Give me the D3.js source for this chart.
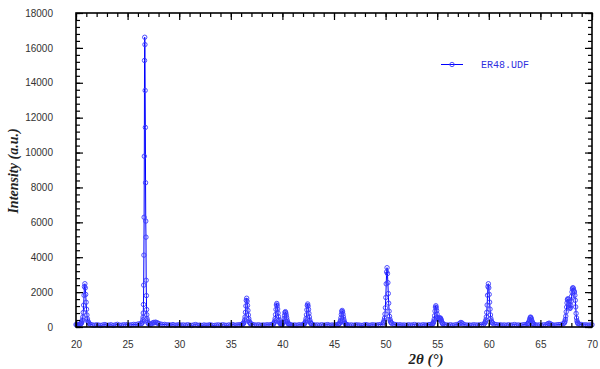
<!DOCTYPE html>
<html>
<head>
<meta charset="utf-8">
<script src="https://cdn.jsdelivr.net/npm/d3@7"></script>
<style>
  body { margin: 0; background: #fff; }
  svg { display: block; }
</style>
</head>
<body>
<svg id="chart" width="600" height="369"></svg>
<script>
// XRD scan ER48.UDF, [2theta, counts]
const bgLow = [
    [20.00, 140], [20.08, 120], [20.16, 150], [20.24, 110], [20.32, 130], [20.40, 160], [20.46, 180],
    [21.40, 150], [21.60, 120], [21.80, 100], [22.00, 130], [22.20, 110], [22.40, 90], [22.60, 120],
    [22.80, 140], [23.00, 100], [23.20, 110], [23.40, 130], [23.60, 90], [23.80, 120], [24.00, 150],
    [24.20, 110], [24.40, 100], [24.60, 130], [24.80, 120], [25.00, 140], [25.20, 110], [25.40, 130],
    [25.60, 150], [25.80, 140], [26.00, 170], [26.20, 190],
    [27.10, 180], [27.20, 150], [27.30, 170], [27.40, 220], [27.50, 260], [27.60, 240], [27.70, 280],
    [27.80, 250], [27.90, 230], [28.00, 200], [28.20, 170], [28.40, 140], [28.60, 150], [28.80, 120],
    [29.00, 130], [29.20, 110], [29.40, 140], [29.60, 100], [29.80, 120], [30.00, 130], [30.20, 110],
    [30.40, 120], [30.60, 100], [30.80, 130], [31.00, 110], [31.20, 90], [31.40, 120], [31.60, 140],
    [31.80, 100], [32.00, 110], [32.20, 90], [32.40, 120], [32.60, 100], [32.80, 110], [33.00, 130],
    [33.20, 100], [33.40, 90], [33.60, 110], [33.80, 120], [34.00, 100], [34.20, 130], [34.40, 110],
    [34.60, 90], [34.80, 120], [35.00, 110], [35.20, 140], [35.40, 100], [35.60, 120], [35.80, 130],
    [36.00, 140], [36.10, 160]
];

const bgMid = [
    [37.10, 150], [37.30, 120], [37.50, 110], [37.70, 130], [37.90, 100], [38.10, 120], [38.30, 110],
    [38.50, 130], [38.70, 120], [38.90, 140],
    [40.80, 130], [41.00, 110], [41.20, 120], [41.40, 100], [41.60, 130], [41.80, 120], [42.00, 140],
    [43.00, 130], [43.20, 110], [43.40, 120], [43.60, 100], [43.80, 130], [44.00, 110], [44.20, 120],
    [44.40, 140], [44.60, 100], [44.80, 120], [45.00, 110], [45.20, 130], [45.40, 140],
    [46.30, 130], [46.50, 110], [46.70, 120], [46.90, 100], [47.10, 130], [47.30, 120], [47.50, 110],
    [47.70, 90], [47.90, 120], [48.10, 140], [48.30, 110], [48.50, 100], [48.70, 130], [48.90, 120],
    [49.10, 110], [49.30, 130], [49.50, 140], [49.70, 150]
];

const bgHigh = [
    [50.60, 200], [50.80, 160], [51.00, 140], [51.20, 120], [51.40, 130], [51.60, 110], [51.80, 120],
    [52.00, 100], [52.20, 130], [52.40, 110], [52.60, 120], [52.80, 140], [53.00, 110], [53.20, 120],
    [53.40, 100], [53.60, 130], [53.80, 120], [54.00, 110], [54.20, 140], [54.40, 150],
    [55.70, 140], [55.90, 120], [56.10, 110], [56.30, 130], [56.50, 100], [56.70, 120], [56.90, 140],
    [57.10, 170], [57.20, 220], [57.30, 260], [57.40, 230], [57.50, 170],
    [57.70, 130], [57.90, 110], [58.10, 120], [58.30, 100], [58.50, 130], [58.70, 120], [58.90, 110],
    [59.10, 130], [59.30, 140], [59.50, 150],
    [60.50, 170], [60.70, 140], [60.90, 120], [61.10, 130], [61.30, 110], [61.50, 120], [61.70, 100],
    [61.90, 130], [62.10, 110], [62.30, 120], [62.50, 140], [62.70, 110], [62.90, 120], [63.10, 100],
    [63.30, 130], [63.50, 140],
    [64.50, 130], [64.70, 110], [64.90, 120], [65.10, 100], [65.30, 130], [65.50, 120],
    [65.65, 160], [65.75, 200], [65.85, 220], [65.95, 180], [66.05, 150],
    [66.20, 120], [66.40, 110], [66.60, 130], [66.80, 140], [67.00, 150], [67.20, 190],
    [68.80, 160], [69.00, 140], [69.20, 120], [69.40, 130], [69.60, 110], [69.80, 120], [70.00, 130]
];

const peak208 = [
    [20.50, 214], [20.54, 238], [20.58, 309], [20.62, 403], [20.66, 568], [20.70, 828], [20.74, 1253],
    [20.78, 1819], [20.82, 2315], [20.86, 2480], [20.90, 2244], [20.94, 1866], [20.98, 1418],
    [21.02, 1017], [21.06, 686], [21.10, 474], [21.14, 356], [21.18, 285], [21.22, 238], [21.26, 214]
];

const peak266 = [
    [26.36, 200], [26.40, 230], [26.44, 300], [26.48, 420], [26.50, 560], [26.52, 800], [26.54, 1290],
    [26.56, 2400], [26.58, 4120], [26.60, 6290], [26.62, 9790], [26.64, 15280], [26.66, 16610],
    [26.68, 16190], [26.70, 13560], [26.72, 11440], [26.74, 8270], [26.76, 6070], [26.78, 5150],
    [26.80, 2680], [26.82, 1800], [26.84, 1000], [26.86, 700], [26.88, 480], [26.92, 360],
    [26.96, 260], [27.00, 200]
];

const peak365 = [
    [36.18, 180], [36.22, 196], [36.26, 241], [36.30, 301], [36.34, 407], [36.38, 573], [36.42, 845],
    [36.46, 1207], [36.50, 1524], [36.54, 1650], [36.58, 1479], [36.62, 1237], [36.66, 950],
    [36.70, 694], [36.74, 482], [36.78, 347], [36.82, 271], [36.86, 226], [36.90, 196], [36.94, 180]
];

const peak395 = [
    [39.10, 169], [39.14, 182], [39.18, 218], [39.22, 268], [39.26, 354], [39.30, 489], [39.34, 710],
    [39.38, 1006], [39.42, 1264], [39.46, 1350], [39.50, 1227], [39.54, 1030], [39.58, 797],
    [39.62, 587], [39.66, 415], [39.70, 305], [39.74, 243], [39.78, 206], [39.82, 182], [39.86, 169]
];

const peak403 = [
    [39.93, 150], [39.97, 158], [40.01, 181], [40.05, 211], [40.09, 264], [40.13, 348], [40.17, 485],
    [40.21, 667], [40.25, 827], [40.29, 880], [40.33, 804], [40.37, 682], [40.41, 538], [40.45, 409],
    [40.49, 302], [40.53, 234], [40.57, 196], [40.61, 173], [40.65, 158], [40.69, 150]
];

const peak424 = [
    [42.09, 168], [42.13, 180], [42.17, 216], [42.21, 264], [42.25, 348], [42.29, 480], [42.33, 696],
    [42.37, 984], [42.41, 1236], [42.45, 1320], [42.49, 1200], [42.53, 1008], [42.57, 780],
    [42.61, 576], [42.65, 408], [42.69, 300], [42.73, 240], [42.77, 204], [42.81, 180], [42.85, 168]
];

const peak458 = [
    [45.43, 153], [45.47, 162], [45.51, 186], [45.55, 220], [45.59, 278], [45.63, 369], [45.67, 518],
    [45.71, 718], [45.75, 892], [45.79, 950], [45.83, 867], [45.87, 734], [45.91, 577], [45.95, 435],
    [45.99, 319], [46.03, 245], [46.07, 203], [46.11, 178], [46.15, 162], [46.19, 153]
];

const peak501 = [
    [49.78, 251], [49.82, 284], [49.86, 382], [49.90, 512], [49.94, 741], [49.98, 1101], [50.02, 1690],
    [50.06, 2474], [50.10, 3161], [50.14, 3400], [50.18, 3063], [50.22, 2540], [50.26, 1919],
    [50.30, 1363], [50.34, 905], [50.38, 611], [50.42, 447], [50.46, 349], [50.50, 284], [50.54, 251]
];

const peak549 = [
    [54.51, 164], [54.55, 175], [54.59, 208], [54.63, 252], [54.67, 329], [54.71, 450], [54.75, 648],
    [54.79, 912], [54.83, 1143], [54.87, 1220], [54.91, 1110], [54.95, 934], [54.99, 735],
    [55.03, 560], [55.07, 460], [55.11, 420], [55.15, 430], [55.19, 470], [55.23, 500], [55.27, 520],
    [55.31, 510], [55.35, 470], [55.39, 400], [55.43, 320], [55.47, 250], [55.51, 200], [55.55, 170]
];

const peak600 = [
    [59.60, 224], [59.64, 248], [59.68, 318], [59.72, 412], [59.76, 577], [59.80, 835], [59.84, 1258],
    [59.88, 1822], [59.92, 2316], [59.96, 2480], [60.00, 2245], [60.04, 1869], [60.08, 1423],
    [60.12, 1023], [60.16, 694], [60.20, 483], [60.24, 365], [60.28, 295], [60.32, 248], [60.36, 224]
];

const peak640 = [
    [63.72, 170], [63.76, 180], [63.80, 200], [63.84, 230], [63.88, 280], [63.92, 340], [63.96, 430],
    [64.00, 520], [64.04, 570], [64.08, 540], [64.12, 470], [64.16, 380], [64.20, 300], [64.24, 240],
    [64.28, 200], [64.32, 170], [64.36, 150]
];

const peak680 = [
    [67.30, 220], [67.34, 260], [67.38, 330], [67.42, 440], [67.46, 620], [67.50, 870], [67.54, 1140],
    [67.58, 1380], [67.62, 1560], [67.66, 1620], [67.70, 1590], [67.74, 1480], [67.78, 1300],
    [67.82, 1140], [67.86, 1060], [67.90, 1100], [67.94, 1250], [67.98, 1480], [68.02, 1760],
    [68.06, 2010], [68.10, 2180], [68.14, 2250], [68.18, 2230], [68.22, 2120], [68.26, 2040],
    [68.30, 2000], [68.34, 1820], [68.38, 1530], [68.42, 1150], [68.46, 780], [68.50, 520],
    [68.54, 360], [68.58, 270], [68.62, 220], [68.66, 190]
];

const xTicks = [20, 25, 30, 35, 40, 45, 50, 55, 60, 65, 70];
const yTicks = [0, 2000, 4000, 6000, 8000, 10000, 12000, 14000, 16000, 18000];
const seriesName = "ER48.UDF";

// merge everything into one scan ordered by angle
const scan = [].concat(bgLow, bgMid, bgHigh, peak208, peak266, peak365, peak395, peak403,
    peak424, peak458, peak501, peak549, peak600, peak640, peak680)
    .sort((a, b) => a[0] - b[0]);

const svg = d3.select("#chart");
const margin = {top: 13, right: 8, bottom: 42, left: 76};
const width = 600 - margin.left - margin.right;
const height = 369 - margin.top - margin.bottom;

const x = d3.scaleLinear().domain([20, 70]).range([0, width]);
const y = d3.scaleLinear().domain([0, 18000]).range([height, 0]);

const g = svg.append("g").attr("transform", `translate(${margin.left},${margin.top})`);

const blue = "#0000ff";

// data
g.append("path")
    .datum(scan)
    .attr("fill", "none")
    .attr("stroke", blue)
    .attr("stroke-width", 1)
    .attr("d", d3.line().x(d => x(d[0])).y(d => y(d[1])));

g.append("g").selectAll("circle")
    .data(scan)
    .join("circle")
    .attr("cx", d => x(d[0]))
    .attr("cy", d => y(d[1]))
    .attr("r", 2.2)
    .attr("fill", "none")
    .attr("stroke", "#3b3bff")
    .attr("stroke-width", 0.9);

// axes, ticks point inward on all four sides
const minorX = d3.range(20, 71, 1);
const minorY = d3.range(0, 18001, 400);

function styleAxis(sel) {
    sel.select(".domain").remove();
    sel.selectAll("line").attr("stroke", "#000").attr("stroke-width", 1.2);
    sel.selectAll("text").attr("font-family", "Liberation Sans, Arial, sans-serif")
        .attr("font-size", 10).attr("fill", "#333");
}

g.append("g").attr("transform", `translate(0,${height})`)
    .call(d3.axisBottom(x).tickValues(minorX).tickSize(-4).tickFormat(""))
    .call(styleAxis);
g.append("g").attr("transform", `translate(0,${height})`)
    .call(d3.axisBottom(x).tickValues(xTicks).tickSize(-7).tickPadding(14).tickFormat(d3.format("d")))
    .call(styleAxis);
g.append("g")
    .call(d3.axisTop(x).tickValues(minorX).tickSize(-4).tickFormat(""))
    .call(styleAxis);
g.append("g")
    .call(d3.axisTop(x).tickValues(xTicks).tickSize(-7).tickFormat(""))
    .call(styleAxis);

g.append("g")
    .call(d3.axisLeft(y).tickValues(minorY).tickSize(-4).tickFormat(""))
    .call(styleAxis);
g.append("g")
    .call(d3.axisLeft(y).tickValues(yTicks).tickSize(-7).tickPadding(23).tickFormat(d3.format("d")))
    .call(styleAxis);
g.append("g").attr("transform", `translate(${width},0)`)
    .call(d3.axisRight(y).tickValues(minorY).tickSize(-4).tickFormat(""))
    .call(styleAxis);
g.append("g").attr("transform", `translate(${width},0)`)
    .call(d3.axisRight(y).tickValues(yTicks).tickSize(-7).tickFormat(""))
    .call(styleAxis);

// frame
g.append("rect")
    .attr("width", width).attr("height", height)
    .attr("fill", "none").attr("stroke", "#000").attr("stroke-width", 1.6);

// axis titles
svg.append("text")
    .attr("x", 426).attr("y", 364)
    .attr("text-anchor", "middle")
    .attr("font-family", "Liberation Serif, Times New Roman, serif")
    .attr("font-weight", "bold").attr("font-style", "italic")
    .attr("font-size", 15).attr("fill", "#222")
    .text("2θ (°)");

svg.append("text")
    .attr("transform", "translate(18,171) rotate(-90)")
    .attr("text-anchor", "middle")
    .attr("font-family", "Liberation Serif, Times New Roman, serif")
    .attr("font-weight", "bold").attr("font-style", "italic")
    .attr("font-size", 14).attr("fill", "#222")
    .text("Intensity (a.u.)");

// legend
const lg = svg.append("g").attr("transform", "translate(441,64.5)");
lg.append("line").attr("x1", 0).attr("x2", 22).attr("y1", 0).attr("y2", 0)
    .attr("stroke", blue).attr("stroke-width", 1);
lg.append("circle").attr("cx", 11).attr("cy", 0).attr("r", 2.2)
    .attr("fill", "none").attr("stroke", "#3b3bff").attr("stroke-width", 0.9);
lg.append("text").attr("x", 40).attr("y", 3.5)
    .attr("font-family", "Liberation Mono, Courier New, monospace")
    .attr("font-size", 10).attr("fill", "#3030e0")
    .text(seriesName);
</script>
</body>
</html>
